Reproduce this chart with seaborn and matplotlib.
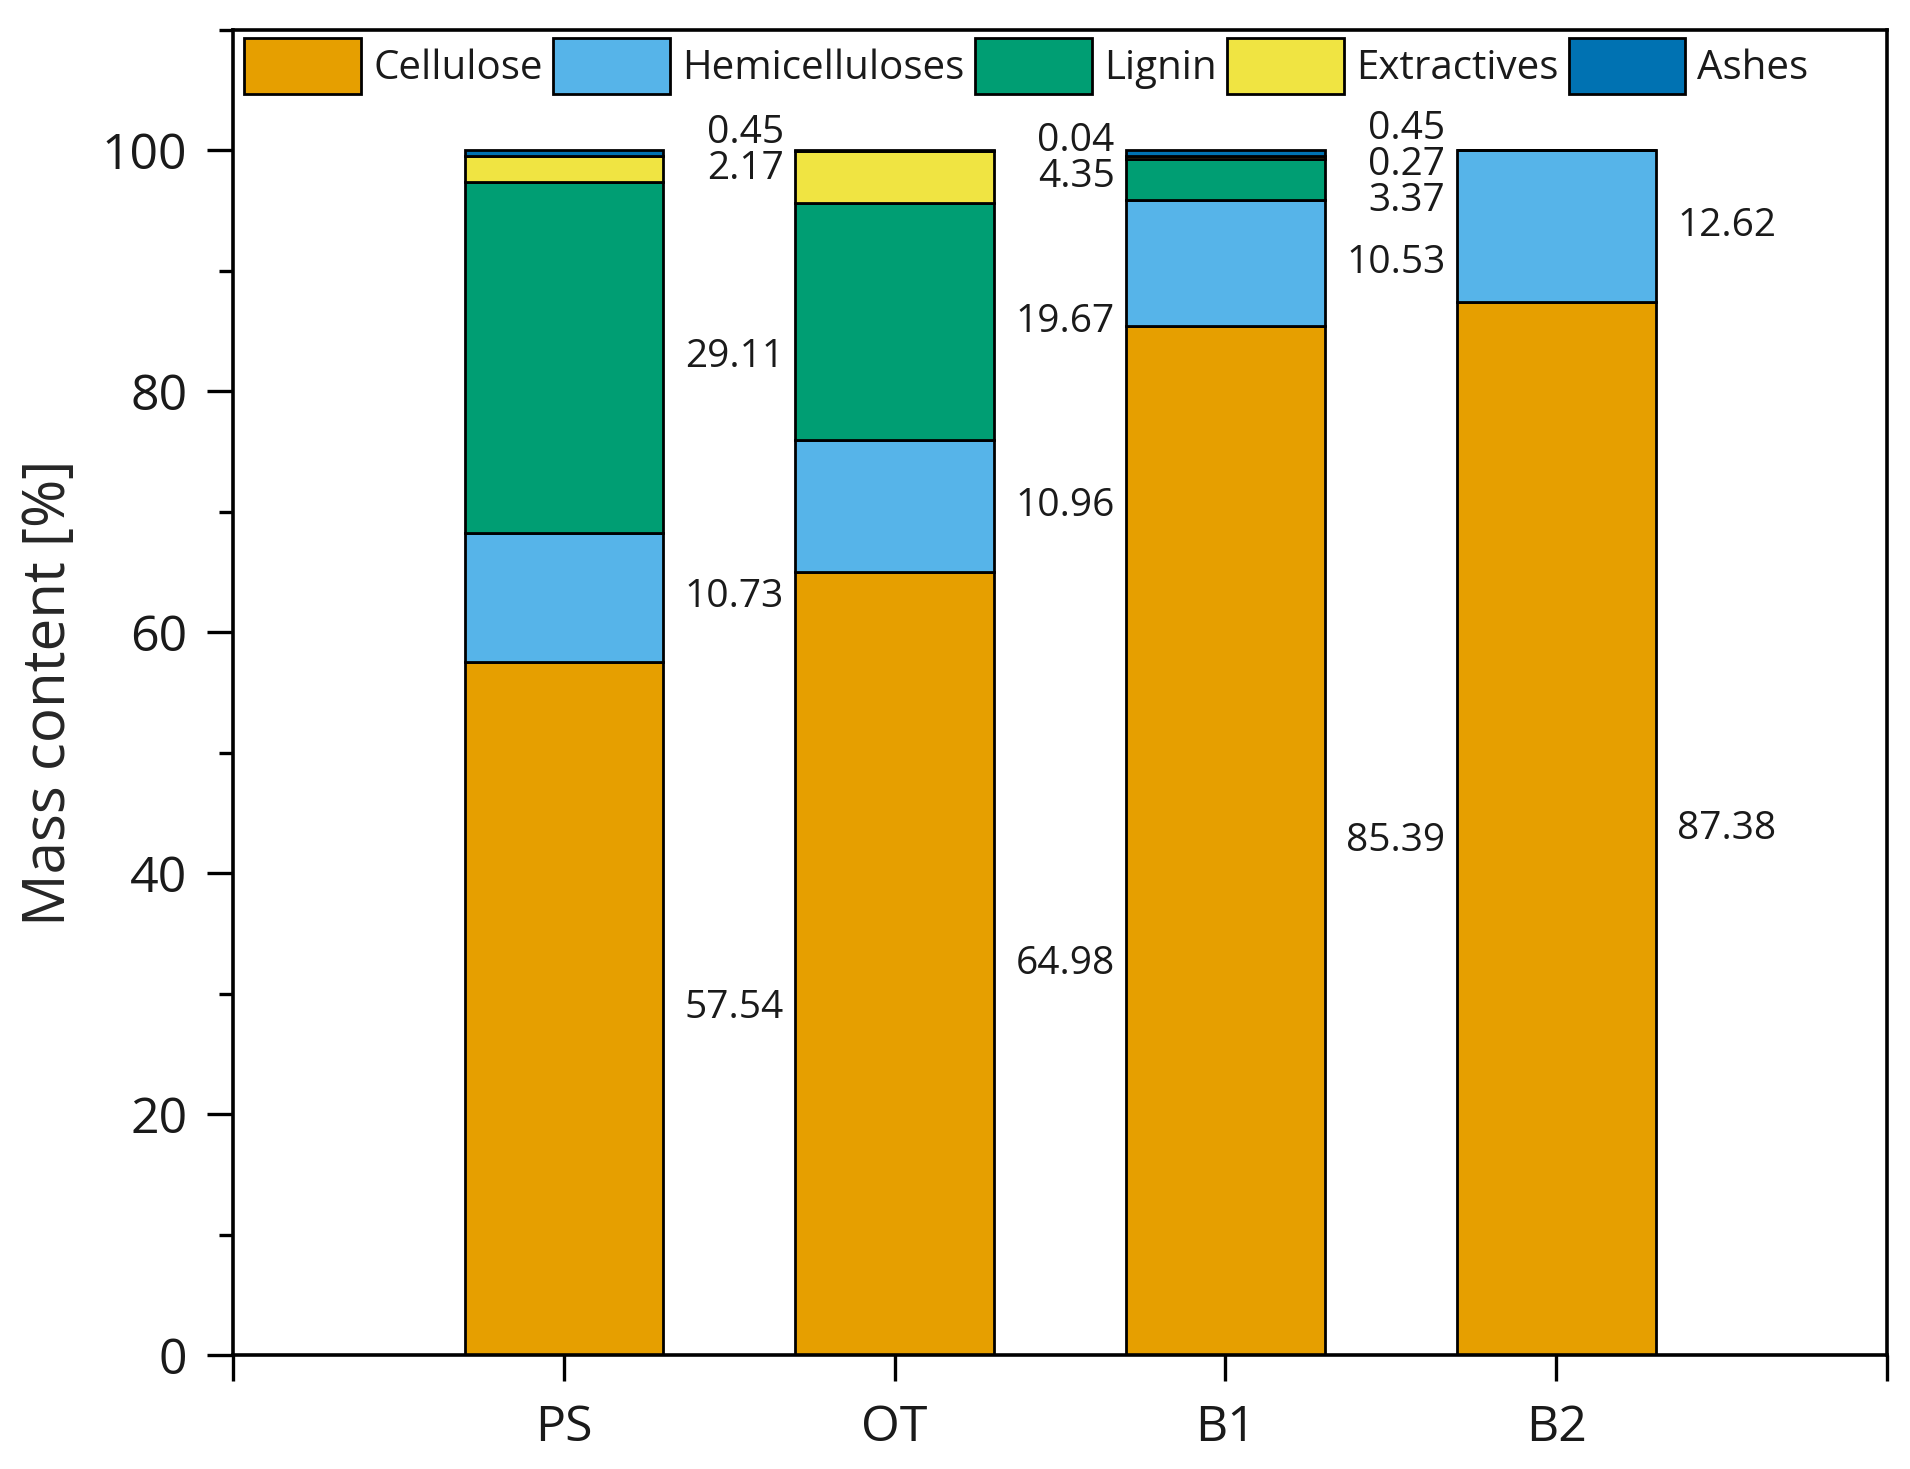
import numpy as np
import pandas as pd
import matplotlib
matplotlib.use("Agg")
import matplotlib.pyplot as plt
from matplotlib.patches import Patch
from matplotlib.ticker import MultipleLocator
import seaborn as sns

# data (mass content, %)
samples = ["PS", "OT", "B1", "B2"]
components = ["Cellulose", "Hemicelluloses", "Lignin", "Extractives", "Ashes"]
cellulose = [57.54, 64.98, 85.39, 87.38]
hemicelluloses = [10.73, 10.96, 10.53, 12.62]
lignin = [29.11, 19.67, 3.37, 0.0]
extractives = [2.17, 4.35, 0.27, 0.0]
ashes = [0.45, 0.04, 0.45, 0.0]
colors = ["#E69F00", "#56B4E9", "#009E73", "#F0E442", "#0072B2"]

values = [cellulose, hemicelluloses, lignin, extractives, ashes]
rows = []
for comp, vals in zip(components, values):
    for s, v in zip(samples, vals):
        rows.append({"sample": s, "component": comp, "value": v})
df = pd.DataFrame(rows)
df["sample"] = pd.Categorical(df["sample"], categories=samples, ordered=True)

sns.set_style("ticks")
plt.rcParams["font.family"] = ["Open Sans", "DejaVu Sans"]

fig = plt.figure(figsize=(19.1, 14.69), dpi=100)
ax = fig.add_axes([0.122, 0.0776, 0.866, 0.902])

palette = dict(zip(components, colors))
# seaborn stacks the first hue level on top, so reverse to get cellulose at the bottom
sns.histplot(data=df, x="sample", hue="component", weights="value",
             multiple="stack", discrete=True, shrink=0.6,
             hue_order=components[::-1], palette=palette,
             edgecolor="black", linewidth=2, alpha=1, legend=False, ax=ax)

# value labels, right-aligned in the gap to the right of each bar
gap = 3.0
cap = 101.8
for i, s in enumerate(samples):
    vals = [v[i] for v in values]
    bottoms = np.cumsum([0] + vals[:-1])
    items = [(b + v / 2, v) for b, v in zip(bottoms, vals) if v > 0]
    ys = [c for c, _ in items]
    for k in range(1, len(ys)):
        ys[k] = max(ys[k], ys[k - 1] + gap)
    if ys[-1] > cap:
        ys[-1] = cap
        for k in range(len(ys) - 2, -1, -1):
            ys[k] = min(ys[k], ys[k + 1] - gap)
    for y, (_, v) in zip(ys, items):
        ax.text(i + 0.665, y, f"{v:.2f}", ha="right", va="center",
                fontsize=28, color="#1a1a1a")

ax.set_xlim(-1, 4)
ax.set_ylim(0, 110)
ax.set_xticks(range(-1, 5))
ax.set_xticklabels([""] + samples + [""])
ax.set_yticks(range(0, 101, 20))
ax.yaxis.set_minor_locator(MultipleLocator(10))
ax.set_xlabel("")
ax.set_ylabel("Mass content [%]", fontsize=42, labelpad=16)

for sp in ax.spines.values():
    sp.set_visible(True)
    sp.set_linewidth(2.6)
    sp.set_color("black")
ax.tick_params(axis="both", which="major", direction="out", length=19, width=2.4,
               labelsize=36, color="black", labelcolor="#1a1a1a")
ax.tick_params(axis="y", which="major", pad=14)
ax.tick_params(axis="x", which="major", pad=16)
ax.tick_params(axis="y", which="minor", direction="out", length=10, width=2.4, color="black")
ax.tick_params(top=False, right=False, which="both")

handles = [Patch(facecolor=c, edgecolor="black", linewidth=2, label=n)
           for n, c in zip(components, colors)]
ax.legend(handles=handles, loc="upper left", bbox_to_anchor=(0.002, 1), ncol=5,
          frameon=False, fontsize=29, handlelength=2.9, handleheight=1.76,
          handletextpad=0.3, columnspacing=0.26, borderaxespad=0.05, borderpad=0.15,
          labelcolor="#1a1a1a")

fig.savefig("out.png", dpi=100)
